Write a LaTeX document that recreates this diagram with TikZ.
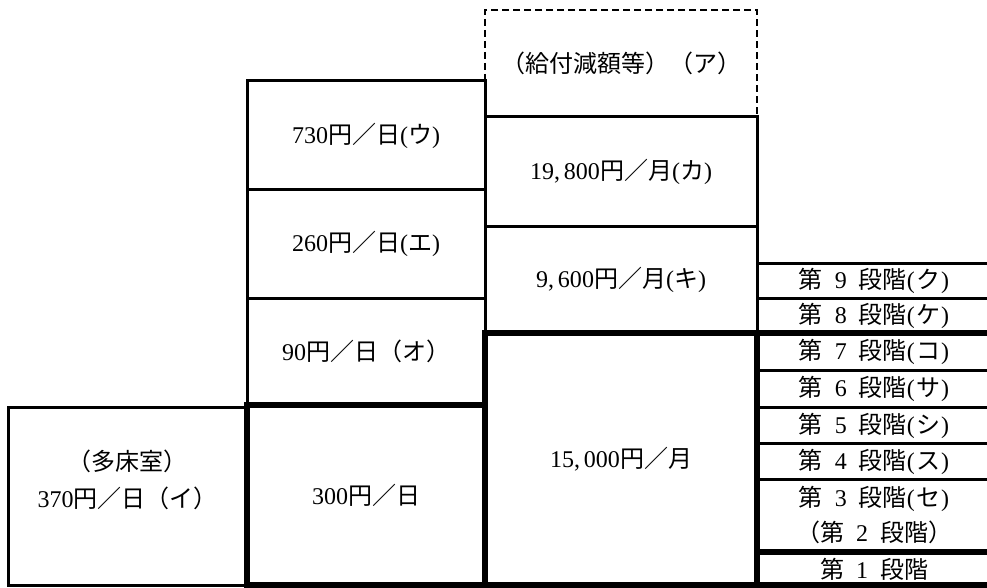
\documentclass[tikz,border=0pt]{standalone}
\usepackage{fontspec}
\setmainfont{Liberation Serif}
\newfontfamily\jp{Noto Sans CJK JP}
\usetikzlibrary{positioning}
\newcommand\dan[2]{{\jp 第}\makebox[1.5em]{#1}{\jp 段階}(\hspace{.05em}{\jp #2}\hspace{.05em})}

\begin{document}
\begin{tikzpicture}[x=1pt, y=-1pt,
  cell/.style={draw, line width=3pt, inner sep=0pt, align=center,
    font=\fontsize{24}{37}\selectfont},
  heavy/.style={cell, line width=6pt},
  dashbox/.style={cell, line width=2.8pt, dash pattern=on 7pt off 4pt},
  rung/.style={inner sep=0pt, align=center, font=\fontsize{24}{37}\selectfont}]
\useasboundingbox (0,0) rectangle (987,588);

% left column
\node[cell, minimum width=239pt, minimum height=178pt, text depth=34pt] (I) at (127.5,496) {{\jp （多床室）}\\370{\jp 円／日（イ）}};

% second column
\node[cell, minimum width=238pt, minimum height=109pt] (U) at (366,135.5) {730{\jp 円／日}({\jp ウ})};
\node[cell, minimum width=238pt, minimum height=108pt] (E) at (366,244)   {260{\jp 円／日}({\jp エ})};
\node[cell, minimum width=238pt, minimum height=107pt] (O) at (366,351.5) {90{\jp 円／日（オ）}};

% third column
\node[dashbox, minimum width=272pt, minimum height=107pt] (A) at (621,63.5) {\jp （給付減額等）（ア）};
\node[cell, minimum width=272pt, minimum height=109pt] (Ka) at (621,171.5) {19,\,800{\jp 円／月}({\jp カ})};
\node[cell, minimum width=272pt, minimum height=107pt] (Ki) at (621,279.5) {9,\,600{\jp 円／月}({\jp キ})};

% heavy boxes
\node[heavy, minimum width=238pt, minimum height=180pt] (P) at (366,495) {300{\jp 円／日}};
\node[heavy, minimum width=272pt, minimum height=252pt] (M) at (621,459) {15,\,000{\jp 円／月}};

% steps
\node[rung] (S9) at (874,281) {\dan{9}{ク}};
\node[rung] (S8) at (874,316) {\dan{8}{ケ}};
\node[rung] (S7) at (874,352) {\dan{7}{コ}};
\node[rung] (S6) at (874,389) {\dan{6}{サ}};
\node[rung] (S5) at (874,425.5) {\dan{5}{シ}};
\node[rung] (S4) at (874,461.5) {\dan{4}{ス}};
\node[rung] (S3) at (874,515.5) {\dan{3}{セ}\\[-2pt]{\jp （第}\makebox[1.5em]{2}{\jp 段階）}};
\node[rung] (S1) at (874,569) {{\jp 第}\makebox[1.5em]{1}{\jp 段階}};

\foreach \y in {263,298,370,407,443,479}
  \draw[line width=3pt] (757,\y) -- (987,\y);
\foreach \y in {333,552,585}
  \draw[line width=6pt] (757,\y) -- (987,\y);
\end{tikzpicture}
\end{document}
